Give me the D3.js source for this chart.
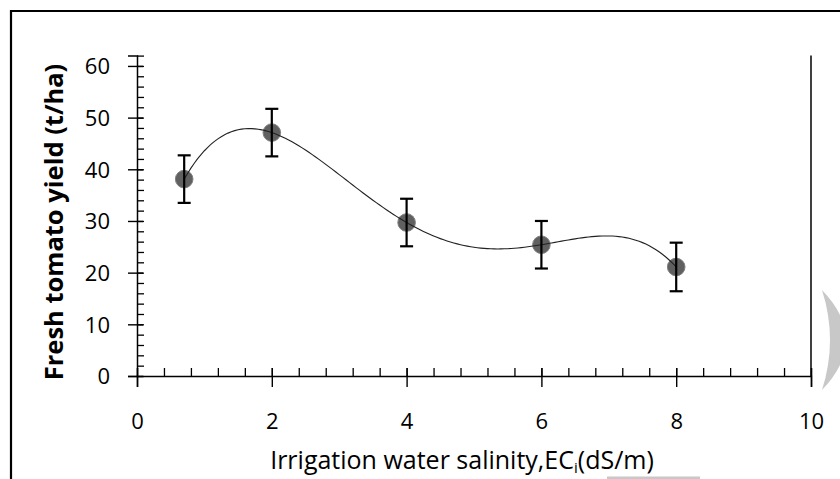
<!DOCTYPE html>
<html>
<head>
<meta charset="utf-8">
<script src="https://cdn.jsdelivr.net/npm/d3@7"></script>
<style>
  body { margin: 0; background: #fff; }
  text { font-family: 'Open Sans', 'Noto Sans', sans-serif; fill: #000; }
</style>
</head>
<body>
<svg id="chart" width="840" height="479"></svg>
<script>
// data
const salinity = [0.7, 2, 4, 6, 8];
const yieldMean = [38.1, 47.1, 29.7, 25.4, 21.1];
const yieldErr = [4.6, 4.6, 4.6, 4.6, 4.7];
const xTicks = [0, 2, 4, 6, 8, 10];
const yTicks = [0, 10, 20, 30, 40, 50, 60];

const svg = d3.select('#chart');

const x = d3.scaleLinear().domain([0, 10]).range([137, 811]);
const y = d3.scaleLinear().domain([0, 62]).range([376, 55.6]);

// outer frame
svg.append('path')
    .attr('d', 'M11,479 L11,11 L840,11')
    .attr('fill', 'none')
    .attr('stroke', '#000')
    .attr('stroke-width', 2.2);

// right border of plot
svg.append('line')
    .attr('x1', x(10)).attr('x2', x(10))
    .attr('y1', y(62)).attr('y2', y(0))
    .attr('stroke', '#000').attr('stroke-width', 1.5);

// y axis minor ticks
svg.append('g')
    .attr('transform', `translate(${x(0)},0)`)
    .call(d3.axisLeft(y).tickValues(d3.range(0, 63, 2)).tickSize(-7).tickFormat(''))
    .call(g => g.select('.domain').remove())
    .call(g => g.selectAll('line').attr('stroke-width', 1.3));

// y axis major
const yAxis = svg.append('g')
    .attr('transform', `translate(${x(0)},0)`)
    .call(d3.axisLeft(y).tickValues(yTicks).tickSizeOuter(0).tickSize(9));
yAxis.select('.domain').attr('stroke-width', 1.5);
yAxis.selectAll('.tick line').attr('x1', -9).attr('x2', 6).attr('stroke-width', 1.4);
yAxis.selectAll('.tick text')
    .attr('x', -27).attr('dy', '0.36em')
    .style('font-size', '22px').attr('fill', '#222');

// x axis minor ticks
svg.append('g')
    .attr('transform', `translate(0,${y(0)})`)
    .call(d3.axisBottom(x).tickValues(d3.range(0, 10.01, 0.4)).tickSize(-8).tickFormat(''))
    .call(g => g.select('.domain').remove())
    .call(g => g.selectAll('line').attr('stroke-width', 1.3));

// x axis major
const xAxis = svg.append('g')
    .attr('transform', `translate(0,${y(0)})`)
    .call(d3.axisBottom(x).tickValues(xTicks).tickSizeOuter(0).tickSize(11));
xAxis.select('.domain').attr('stroke-width', 1.5);
xAxis.selectAll('.tick line').attr('y1', -8).attr('y2', 11).attr('stroke-width', 1.4);
xAxis.selectAll('.tick text')
    .attr('y', 53).attr('dy', 0)
    .style('font-size', '22px').attr('fill', '#222');

// polynomial trendline (order 4) through the points
function poly(t) {
    let s = 0;
    for (let i = 0; i < salinity.length; i++) {
        let l = 1;
        for (let j = 0; j < salinity.length; j++) {
            if (j !== i) l *= (t - salinity[j]) / (salinity[i] - salinity[j]);
        }
        s += yieldMean[i] * l;
    }
    return s;
}
const xs = d3.range(salinity[0], salinity[salinity.length - 1] + 1e-9, 0.05);
xs.push(salinity[salinity.length - 1]);

// markers
svg.append('g').selectAll('circle')
    .data(salinity)
    .join('circle')
    .attr('cx', d => x(d))
    .attr('cy', (d, i) => y(yieldMean[i]))
    .attr('r', 8.8)
    .attr('fill', '#606060')
    .attr('stroke', '#808080')
    .attr('stroke-width', 1);

svg.append('path')
    .datum(xs)
    .attr('fill', 'none')
    .attr('stroke', '#222')
    .attr('stroke-width', 1.1)
    .attr('d', d3.line().x(d => x(d)).y(d => y(poly(d))));

// error bars
const eb = svg.append('g').attr('stroke', '#000').attr('stroke-width', 2.2);
salinity.forEach((s, i) => {
    const cx = x(s);
    const top = y(yieldMean[i] + yieldErr[i]);
    const bot = y(yieldMean[i] - yieldErr[i]);
    eb.append('line').attr('x1', cx).attr('x2', cx).attr('y1', top).attr('y2', bot);
    eb.append('line').attr('x1', cx - 6.5).attr('x2', cx + 6.5).attr('y1', top).attr('y2', top);
    eb.append('line').attr('x1', cx - 6.5).attr('x2', cx + 6.5).attr('y1', bot).attr('y2', bot);
});

// axis titles
svg.append('text')
    .attr('transform', 'translate(63,222) rotate(-90)')
    .attr('text-anchor', 'middle')
    .style('font-size', '25.5px')
    .style('font-weight', 'bold')
    .text('Fresh tomato yield (t/ha)');

const xt = svg.append('text')
    .attr('x', 462).attr('y', 469)
    .attr('text-anchor', 'middle')
    .style('font-size', '25px');
xt.append('tspan').text('Irrigation water salinity,EC');
xt.append('tspan').attr('dy', 4).style('font-size', '15px').text('i');
xt.append('tspan').attr('dy', -4).text('(dS/m)');

// stray grey marks at the right edge
svg.append('path')
    .attr('d', 'M822,290 Q838,340 822,390 Q870,340 822,290 Z')
    .attr('fill', '#c8c8c8');
svg.append('line')
    .attr('x1', 607).attr('x2', 700).attr('y1', 478).attr('y2', 478)
    .attr('stroke', '#c8c8c8').attr('stroke-width', 3);
</script>
</body>
</html>
